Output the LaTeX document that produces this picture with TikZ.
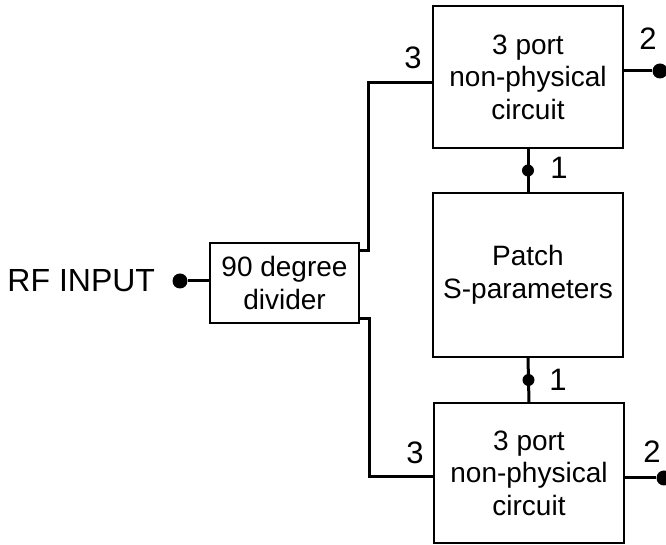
\documentclass[tikz,border=0pt]{standalone}
\usepackage{fontspec}
\setmainfont{Liberation Sans}
\usepackage{tikz}
\usetikzlibrary{positioning,calc}

\begin{document}
\begin{tikzpicture}[x=0.5pt, y=-0.5pt,
  every node/.style={font=\fontsize{14}{16.3}\selectfont},
  block/.style={draw, line width=1pt, align=center, inner sep=0pt, minimum width=95pt},
  wire/.style={line width=1.5pt},
  dot/.style={circle, fill, inner sep=0pt, minimum size=7.5pt},
  smalldot/.style={circle, fill, inner sep=0pt, minimum size=6pt},
  plab/.style={font=\fontsize{15.5}{17}\selectfont}]
\useasboundingbox (0,0) rectangle (666,545);

\node[block, minimum height=71pt] (top) at (528,77) {3 port\\non-physical\\circuit};
\node[block, minimum height=82pt] (patch) at (528,275) {Patch\\S-parameters};
\node[block, minimum height=70pt] (bot) at (529,473) {3 port\\non-physical\\circuit};
\node[block, minimum width=74.5pt, minimum height=40pt] (div) at (284.5,283) {90 degree\\divider};

\node[dot] (rf) at (180,281) {};
\node[left=5pt of rf, font=\fontsize{16}{18}\selectfont] (rflab) {RF INPUT};
\draw[wire] (rf) -- (rf -| div.west);

% divider outputs to port 3
\draw[wire] ($(div.north east)+(0,9)$) -- ++(8,0) |- ($(top.west)+(0,6)$);
\draw[wire] ($(div.south east)+(0,-5)$) -- ++(9,0) |- ($(bot.west)+(0,4)$);
\node[plab] (t3) at (413,58) {3};
\node[plab] (b3) at (415,453) {3};

% port 2
\node[dot] (t2) at (660,71) {};
\node[dot] (b2) at (664,478) {};
\draw[wire] (t2 -| top.east) -- (t2);
\draw[wire] (b2 -| bot.east) -- (b2);
\node[plab] (t2lab) at (648,39) {2};
\node[plab] (b2lab) at (652,452) {2};

% port 1
\draw[wire] (top.south) -- (patch.north);
\draw[wire] (patch.south) -- (bot.north);
\node[smalldot] (t1) at ($(top.south)!0.5!(patch.north)$) {};
\node[smalldot] (b1) at ($(patch.south)!0.5!(bot.north)$) {};
\node[plab] (t1lab) at (559,168) {1};
\node[plab] (b1lab) at (558,380) {1};
\end{tikzpicture}
\end{document}
